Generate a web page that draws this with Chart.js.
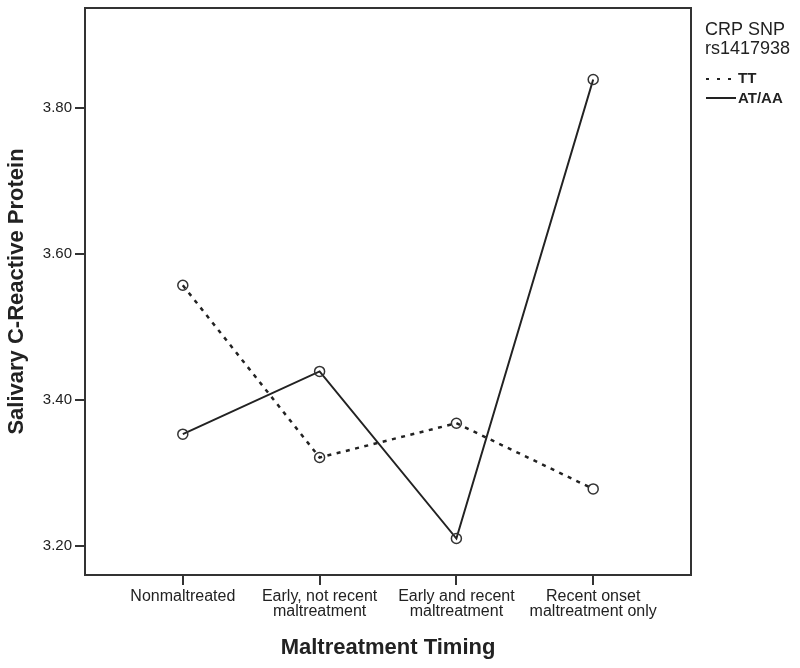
<!DOCTYPE html>
<html>
<head>
<meta charset="utf-8">
<script src="https://cdn.jsdelivr.net/npm/chart.js@4.4.0/dist/chart.umd.min.js"></script>
<style>
    html, body { margin: 0; padding: 0; background: #fff; }
    canvas { display: block; }
</style>
</head>
<body>
<canvas id="crpChart" width="800" height="668"></canvas>
<script>
const categories = [
    ["Nonmaltreated"],
    ["Early, not recent", "maltreatment"],
    ["Early and recent", "maltreatment"],
    ["Recent onset", "maltreatment only"]
];
const ttValues = [3.557, 3.321, 3.368, 3.278];
const ataaValues = [3.353, 3.439, 3.210, 3.839];
const yTicks = [3.20, 3.40, 3.60, 3.80];
const legendTitle = ["CRP SNP", "rs1417938"];
const seriesNames = ["TT", "AT/AA"];

const FONT = "'Liberation Sans', Arial, sans-serif";
const INK = "#222";

// frame round the plot + legend on the right
const framePlugin = {
    id: "frame",
    afterDraw(chart) {
        const { ctx, chartArea } = chart;
        ctx.save();
        ctx.strokeStyle = "#333";
        ctx.lineWidth = 2;
        ctx.strokeRect(chartArea.left, chartArea.top,
            chartArea.right - chartArea.left, chartArea.bottom - chartArea.top);

        ctx.fillStyle = INK;
        ctx.textBaseline = "middle";
        ctx.font = "18px " + FONT;
        ctx.fillText(legendTitle[0], 705, 30);
        ctx.fillText(legendTitle[1], 705, 49);

        ctx.strokeStyle = INK;
        ctx.lineWidth = 2;
        ctx.setLineDash([3, 8]);
        ctx.beginPath();
        ctx.moveTo(706, 79);
        ctx.lineTo(736, 79);
        ctx.stroke();
        ctx.setLineDash([]);
        ctx.beginPath();
        ctx.moveTo(706, 98);
        ctx.lineTo(736, 98);
        ctx.stroke();

        ctx.font = "bold 15px " + FONT;
        ctx.fillText(seriesNames[0], 738, 79);
        ctx.fillText(seriesNames[1], 738, 99);
        ctx.restore();
    }
};

const toPoints = values => values.map((v, i) => ({ x: i, y: v }));

const noPad = scale => {
    scale.paddingTop = 0;
    scale.paddingBottom = 0;
    scale.paddingLeft = 0;
    scale.paddingRight = 0;
};

new Chart(document.getElementById("crpChart"), {
    type: "line",
    data: {
        datasets: [{
            label: seriesNames[0],
            data: toPoints(ttValues),
            borderColor: INK,
            borderWidth: 2.5,
            borderDash: [4, 5.5],
            pointRadius: 5,
            pointBorderWidth: 1.5,
            pointBorderColor: "#333",
            pointBackgroundColor: "rgba(0,0,0,0)"
        }, {
            label: seriesNames[1],
            data: toPoints(ataaValues),
            borderColor: INK,
            borderWidth: 2,
            pointRadius: 5,
            pointBorderWidth: 1.5,
            pointBorderColor: "#333",
            pointBackgroundColor: "rgba(0,0,0,0)"
        }]
    },
    options: {
        responsive: false,
        animation: false,
        devicePixelRatio: 1,
        layout: { padding: { top: 8, right: 109, left: 0, bottom: 0 } },
        plugins: {
            legend: { display: false },
            tooltip: { enabled: false }
        },
        scales: {
            x: {
                type: "linear",
                min: -0.715,
                max: 3.715,
                afterBuildTicks: scale => {
                    scale.ticks = categories.map((_, i) => ({ value: i }));
                },
                afterFit: scale => { scale.height = 93; noPad(scale); },
                border: { display: false },
                grid: {
                    display: true,
                    drawOnChartArea: false,
                    drawTicks: true,
                    tickLength: 10,
                    color: "#333",
                    lineWidth: 2
                },
                ticks: {
                    autoSkip: false,
                    maxRotation: 0,
                    padding: 4,
                    color: INK,
                    font: { family: FONT, size: 16, lineHeight: 0.95 },
                    callback: value => categories[value] || ""
                },
                title: {
                    display: true,
                    text: "Maltreatment Timing",
                    color: INK,
                    font: { family: FONT, size: 22, weight: "bold" },
                    padding: { top: 0, bottom: 7 }
                }
            },
            y: {
                min: 3.16,
                max: 3.937,
                afterBuildTicks: scale => {
                    scale.ticks = yTicks.map(v => ({ value: v }));
                },
                afterFit: scale => { scale.width = 85; noPad(scale); },
                border: { display: false },
                grid: {
                    display: true,
                    drawOnChartArea: false,
                    drawTicks: true,
                    tickLength: 10,
                    color: "#333",
                    lineWidth: 2
                },
                ticks: {
                    padding: 3,
                    color: INK,
                    font: { family: FONT, size: 15 },
                    callback: value => value.toFixed(2)
                },
                title: {
                    display: true,
                    text: "Salivary C-Reactive Protein",
                    color: INK,
                    font: { family: FONT, size: 22, weight: "bold" },
                    padding: { top: 4, bottom: 0 }
                }
            }
        }
    },
    plugins: [framePlugin]
});
</script>
</body>
</html>
